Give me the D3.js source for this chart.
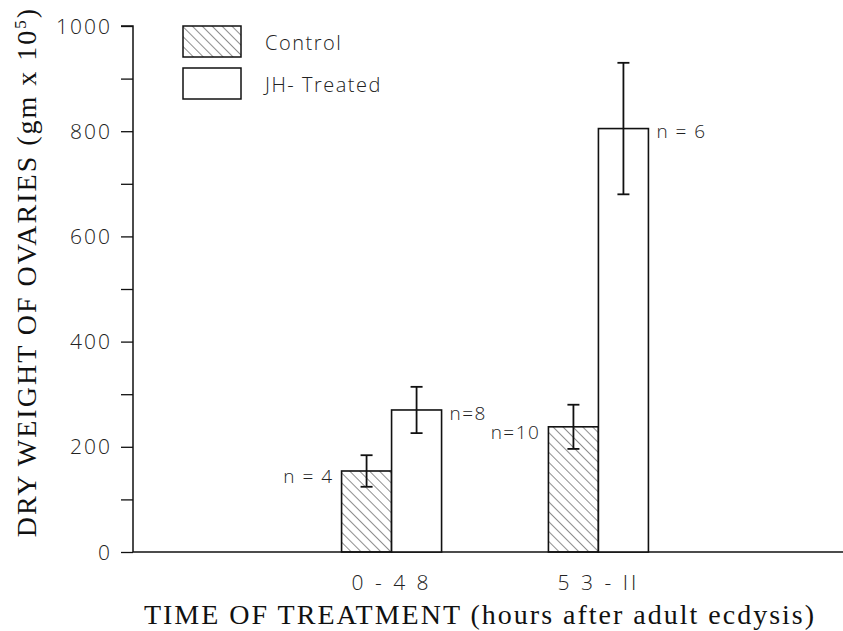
<!DOCTYPE html>
<html>
<head>
<meta charset="utf-8">
<script src="https://cdn.jsdelivr.net/npm/d3@7"></script>
<style>
  body { margin: 0; background: #fff; }
  svg { display: block; }
  .tick-lbl { font-family: "Open Sans", sans-serif; font-weight: 300; fill: #222; }
  .serif { font-family: "Liberation Serif", "Times New Roman", serif; fill: #111; }
</style>
</head>
<body>
<svg id="chart" width="843" height="631"></svg>
<script>
// data
const groups = ["0 - 4 8", "5 3 - II"];
const series = ["Control", "JH- Treated"];
const controlVals = [154, 238];
const controlErr = [30, 42];
const controlN = ["n = 4", "n=10"];
const jhVals = [270, 805];
const jhErr = [44, 125];
const jhN = ["n=8", "n = 6"];
const yTicks = [0, 100, 200, 300, 400, 500, 600, 700, 800, 900, 1000];
const yLabels = [0, 200, 400, 600, 800, 1000];

const margin = {top: 26, right: 0, bottom: 79, left: 133};
const svg = d3.select('#chart');
const width = 843 - margin.left;
const height = 631 - margin.top - margin.bottom;

const x0 = d3.scalePoint().domain(groups).range([0, width + 14]).padding(1.25);
const x1 = d3.scaleBand().domain(series).range([-50, 50]).paddingInner(0);
const y = d3.scaleLinear().domain([0, 1000]).range([height, 0]);

// hatch pattern, lines running top-left to bottom-right
const defs = svg.append('defs');
const pat = defs.append('pattern')
  .attr('id', 'hatch')
  .attr('patternUnits', 'userSpaceOnUse')
  .attr('width', 7).attr('height', 7)
  .attr('patternTransform', 'rotate(45)');
pat.append('line')
  .attr('x1', 0).attr('y1', 0).attr('x2', 7).attr('y2', 0)
  .attr('stroke', '#333').attr('stroke-width', 1.1);

const chart = svg.append('g')
  .attr('transform', 'translate(' + margin.left + ',' + margin.top + ')');

// y axis
const yAxis = d3.axisLeft(y).tickValues(yTicks).tickSize(12).tickFormat('');
const yg = chart.append('g').call(yAxis);
yg.select('.domain').attr('stroke', '#111').attr('stroke-width', 1.5).attr('d', 'M-12,0H0V' + height);
yg.selectAll('.tick line').attr('stroke', '#111').attr('stroke-width', 1.3);
chart.append('g').selectAll('text')
  .data(yLabels).enter().append('text')
  .attr('class', 'tick-lbl')
  .attr('x', -21)
  .attr('y', d => y(d))
  .attr('dy', '0.36em')
  .attr('text-anchor', 'end')
  .style('font-size', '21px')
  .style('letter-spacing', '2px')
  .text(d => d);

// baseline
chart.append('line')
  .attr('x1', 0).attr('x2', width)
  .attr('y1', y(0)).attr('y2', y(0))
  .attr('stroke', '#111').attr('stroke-width', 1.5);

// x category labels
chart.append('g').selectAll('text')
  .data(groups).enter().append('text')
  .attr('class', 'tick-lbl')
  .attr('x', d => x0(d))
  .attr('y', height + 30)
  .attr('dy', '0.36em')
  .attr('text-anchor', 'middle')
  .style('font-size', '21px')
  .style('letter-spacing', '3px')
  .text(d => d);

// bars
const rows = groups.map((g, i) => [
  {g: g, s: series[0], v: controlVals[i], e: controlErr[i], n: controlN[i]},
  {g: g, s: series[1], v: jhVals[i], e: jhErr[i], n: jhN[i]}
]).flat();

chart.selectAll('.bar')
  .data(rows).enter().append('rect')
  .attr('x', d => x0(d.g) + x1(d.s))
  .attr('width', x1.bandwidth())
  .attr('y', d => y(d.v))
  .attr('height', d => y(0) - y(d.v))
  .attr('fill', d => d.s === series[0] ? 'url(#hatch)' : '#fff')
  .attr('stroke', '#111')
  .attr('stroke-width', 1.6);

// error bars
const eb = chart.selectAll('.eb').data(rows).enter().append('g')
  .attr('transform', d => 'translate(' + (x0(d.g) + x1(d.s) + x1.bandwidth() / 2) + ',0)');
eb.append('line')
  .attr('y1', d => y(d.v + d.e)).attr('y2', d => y(d.v - d.e))
  .attr('stroke', '#111').attr('stroke-width', 1.8);
eb.append('line')
  .attr('x1', -6).attr('x2', 6)
  .attr('y1', d => y(d.v + d.e)).attr('y2', d => y(d.v + d.e))
  .attr('stroke', '#111').attr('stroke-width', 1.8);
eb.append('line')
  .attr('x1', -6).attr('x2', 6)
  .attr('y1', d => y(d.v - d.e)).attr('y2', d => y(d.v - d.e))
  .attr('stroke', '#111').attr('stroke-width', 1.8);

// n labels
chart.selectAll('.nl').data(rows).enter().append('text')
  .attr('class', 'tick-lbl')
  .attr('x', d => d.s === series[0] ? x0(d.g) + x1(d.s) - 8 : x0(d.g) + x1(d.s) + x1.bandwidth() + 8)
  .attr('y', d => y(d.v) + (d.s === series[0] ? 5 : 3))
  .attr('dy', '0.36em')
  .attr('text-anchor', d => d.s === series[0] ? 'end' : 'start')
  .style('font-size', '19px')
  .style('letter-spacing', '1.5px')
  .text(d => d.n);

// legend
const legend = svg.append('g').attr('transform', 'translate(183,26)');
const li = legend.selectAll('g').data(series).enter().append('g')
  .attr('transform', (d, i) => 'translate(0,' + i * 42 + ')');
li.append('rect')
  .attr('width', 58).attr('height', 31)
  .attr('fill', (d, i) => i === 0 ? 'url(#hatch)' : '#fff')
  .attr('stroke', '#111').attr('stroke-width', 1.5);
li.append('text')
  .attr('class', 'tick-lbl')
  .attr('x', 82).attr('y', 17)
  .attr('dy', '0.36em')
  .style('font-size', '20px')
  .style('letter-spacing', '1.5px')
  .text(d => d);

// axis titles
svg.append('text')
  .attr('class', 'serif')
  .attr('x', 480).attr('y', 624)
  .attr('text-anchor', 'middle')
  .style('font-size', '28px')
  .style('letter-spacing', '2px')
  .text('TIME OF TREATMENT (hours after adult ecdysis)');

const yt = svg.append('text')
  .attr('class', 'serif')
  .attr('transform', 'translate(36,272) rotate(-90)')
  .attr('text-anchor', 'middle')
  .style('font-size', '28px')
  .style('letter-spacing', '2px');
yt.append('tspan').text('DRY WEIGHT OF OVARIES (gm x 10');
yt.append('tspan').attr('dy', '-10').style('font-size', '17px').text('5');
yt.append('tspan').attr('dy', '10').text(')');
</script>
</body>
</html>
